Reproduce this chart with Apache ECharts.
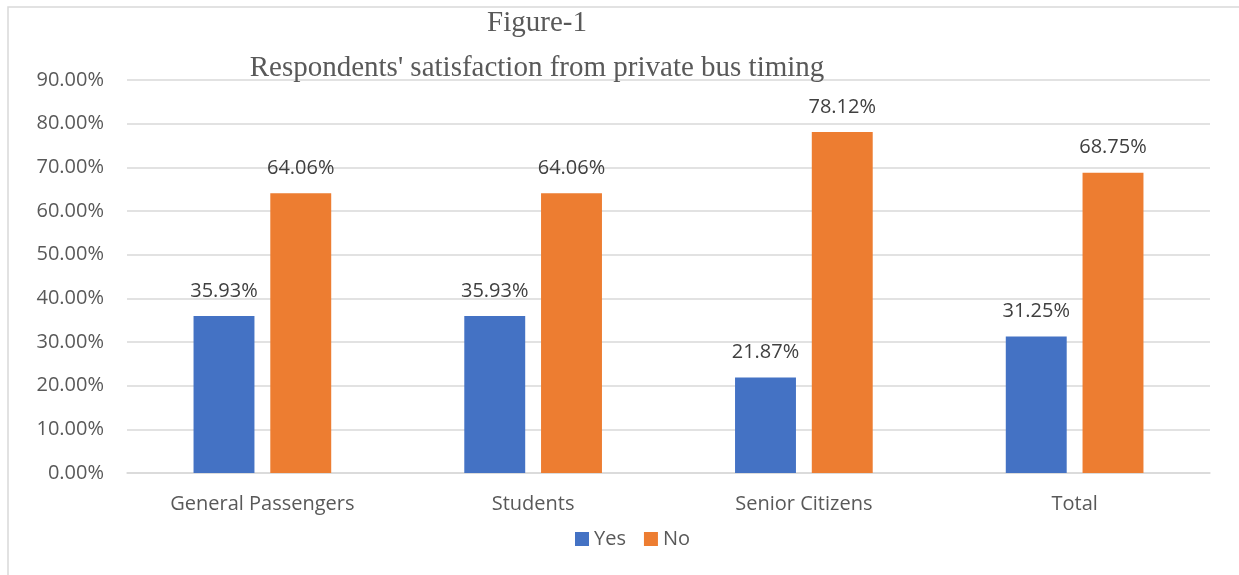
<!DOCTYPE html>
<html>
<head>
<meta charset="utf-8">
<script src="https://cdn.jsdelivr.net/npm/echarts@6/dist/echarts.min.js"></script>
<style>
  html, body { margin: 0; padding: 0; background: #fff; }
  #chart { width: 1239px; height: 575px; }
</style>
</head>
<body>
<div id="chart"></div>
<script>
// Survey groups and answer shares (percent)
const categories = ['General Passengers', 'Students', 'Senior Citizens', 'Total'];
const yesValues = [35.93, 35.93, 21.87, 31.25];
const noValues = [64.06, 64.06, 78.12, 68.75];
const seriesNames = ['Yes', 'No'];

const chart = echarts.init(document.getElementById('chart'));
const sans = '"Open Sans", "Noto Sans", sans-serif';
const serif = '"Liberation Serif", "DejaVu Serif", serif';

const labelStyle = {
  show: true,
  position: 'top',
  distance: 15,
  color: '#404040',
  fontFamily: sans,
  fontSize: 20,
  formatter: p => p.value.toFixed(2) + '%'
};

chart.setOption({
  animation: false,
  graphic: [{
    type: 'rect',
    shape: { x: 8, y: 7, width: 1260, height: 600 },
    style: { fill: 'none', stroke: '#d9d9d9', lineWidth: 1.5 },
    silent: true
  }],
  title: {
    text: 'Figure-1\nRespondents\' satisfaction from private bus timing',
    left: 532,
    top: -4,
    textAlign: 'center',
    textStyle: {
      fontFamily: serif,
      fontSize: 29,
      fontWeight: 'normal',
      color: '#595959',
      lineHeight: 45
    }
  },
  legend: {
    data: seriesNames,
    bottom: 21,
    left: 570,
    icon: 'rect',
    itemWidth: 14,
    itemHeight: 14,
    itemGap: 18,
    textStyle: { fontFamily: sans, fontSize: 20, color: '#595959' }
  },
  grid: { left: 127, right: 29, top: 80, bottom: 102, containLabel: false },
  xAxis: {
    type: 'category',
    data: categories,
    axisLine: { lineStyle: { color: '#d9d9d9', width: 1.5 } },
    axisTick: { show: false },
    axisLabel: { fontFamily: sans, fontSize: 20, color: '#595959', margin: 21 }
  },
  yAxis: {
    type: 'value',
    min: 0,
    max: 90,
    interval: 10,
    axisLine: { show: false },
    axisTick: { show: false },
    splitLine: { lineStyle: { color: '#d9d9d9', width: 1.5 } },
    axisLabel: {
      fontFamily: sans, fontSize: 20, color: '#595959', margin: 23,
      formatter: v => v.toFixed(2) + '%'
    }
  },
  series: [
    {
      name: seriesNames[0], type: 'bar', data: yesValues,
      barWidth: '22.5%', barGap: '26%',
      itemStyle: { color: '#4472C4' },
      label: labelStyle
    },
    {
      name: seriesNames[1], type: 'bar', data: noValues,
      barWidth: '22.5%', barGap: '26%',
      itemStyle: { color: '#ED7D31' },
      label: labelStyle
    }
  ]
});
</script>
</body>
</html>
